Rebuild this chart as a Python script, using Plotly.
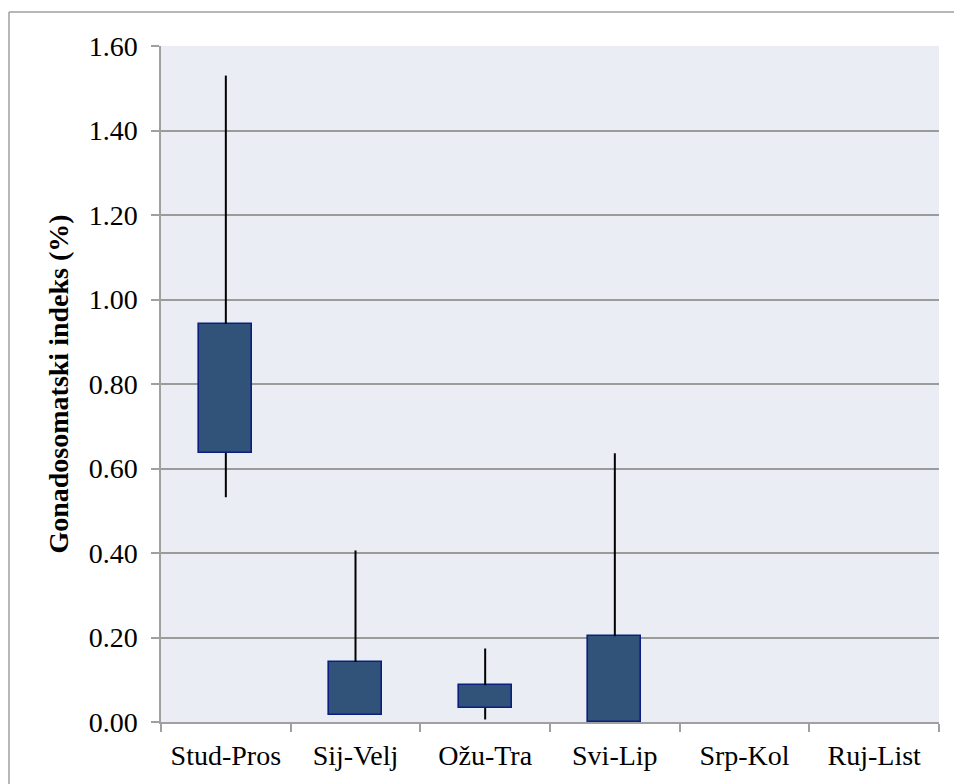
import plotly.graph_objects as go

categories = ["Stud-Pros", "Sij-Velj", "Ožu-Tra", "Svi-Lip", "Srp-Kol", "Ruj-List"]
high_vals = [1.530, 0.406, 0.174, 0.636, None, None]
box_top = [0.942, 0.142, 0.087, 0.203, None, None]
box_bottom = [0.637, 0.016, 0.033, 0.000, None, None]
low_vals = [0.532, 0.016, 0.006, 0.000, None, None]
y_ticks = [0.0, 0.2, 0.4, 0.6, 0.8, 1.0, 1.2, 1.4, 1.6]
y_tick_text = ["0.00", "0.20", "0.40", "0.60", "0.80", "1.00", "1.20", "1.40", "1.60"]

FONT = "Liberation Serif"
OFF = 8  # page body margin
W, H = 962 - OFF, 784 - OFF
# plot area in page pixels: left 161, right 939, top 46, bottom 722
ML, MT = 161 - OFF, 46 - OFF
MR = W - (939 - OFF)
MB = H - (722 - OFF)

# whisker segments (high-low lines), drawn outside the boxes
wx, wy = [], []
for c, hi, top, bot, lo in zip(categories, high_vals, box_top, box_bottom, low_vals):
    if hi is None:
        continue
    if hi > top:
        wx += [c, c, None]
        wy += [top, hi, None]
    if lo < bot:
        wx += [c, c, None]
        wy += [lo, bot, None]

bar_x = [c for c, t in zip(categories, box_top) if t is not None]
bar_base = [b for b in box_bottom if b is not None]
bar_h = [t - b for t, b in zip(box_top, box_bottom) if t is not None]

fig = go.Figure()
fig.add_trace(go.Scatter(x=wx, y=wy, mode="lines",
                         line=dict(color="black", width=2),
                         hoverinfo="skip", showlegend=False))
fig.add_trace(go.Bar(x=bar_x, y=bar_h, base=bar_base, width=0.41,
                     marker=dict(color="#31537a", line=dict(color="#0c1f80", width=1.6)),
                     showlegend=False))

pw = W - ML - MR
ph = H - MT - MB
def px_x(p):
    return (p - OFF - ML) / pw
def px_y(p):
    return (H - MB - (p - OFF)) / ph

border = dict(color="#a0a0a0", width=1.5)
fig.add_shape(type="line", xref="paper", yref="paper",
              x0=px_x(9), x1=px_x(980), y0=px_y(12), y1=px_y(12), line=border)
fig.add_shape(type="line", xref="paper", yref="paper",
              x0=px_x(9), x1=px_x(9), y0=px_y(12), y1=px_y(800), line=border)

fig.update_layout(
    width=W, height=H,
    margin=dict(l=ML, r=MR, t=MT, b=MB, autoexpand=False),
    paper_bgcolor="white",
    plot_bgcolor="#eaeef4",
    font=dict(family=FONT, size=28, color="black"),
    bargap=0,
)
fig.update_xaxes(
    type="category", categoryorder="array", categoryarray=categories,
    range=[-0.5, 5.5], showgrid=False,
    showline=True, linecolor="#a0a0a0", linewidth=1.5,
    ticks="outside", tickson="boundaries", ticklen=8, tickcolor="#a0a0a0", tickwidth=1.5,
    ticklabelstandoff=8,
    tickfont=dict(family=FONT, size=28),
)
fig.update_yaxes(
    range=[0, 1.6], tickvals=y_ticks, ticktext=y_tick_text,
    showgrid=True, gridcolor="#9b9b9b", gridwidth=1.5, zeroline=False,
    showline=True, linecolor="#a0a0a0", linewidth=1.5,
    ticks="outside", ticklen=8, tickcolor="#a0a0a0", tickwidth=1.5,
    ticklabelstandoff=8,
    tickfont=dict(family=FONT, size=28),
    title=dict(text="<b>Gonadosomatski indeks (%)</b>", standoff=12,
               font=dict(family=FONT, size=28)),
)

fig.write_html("out.html")
